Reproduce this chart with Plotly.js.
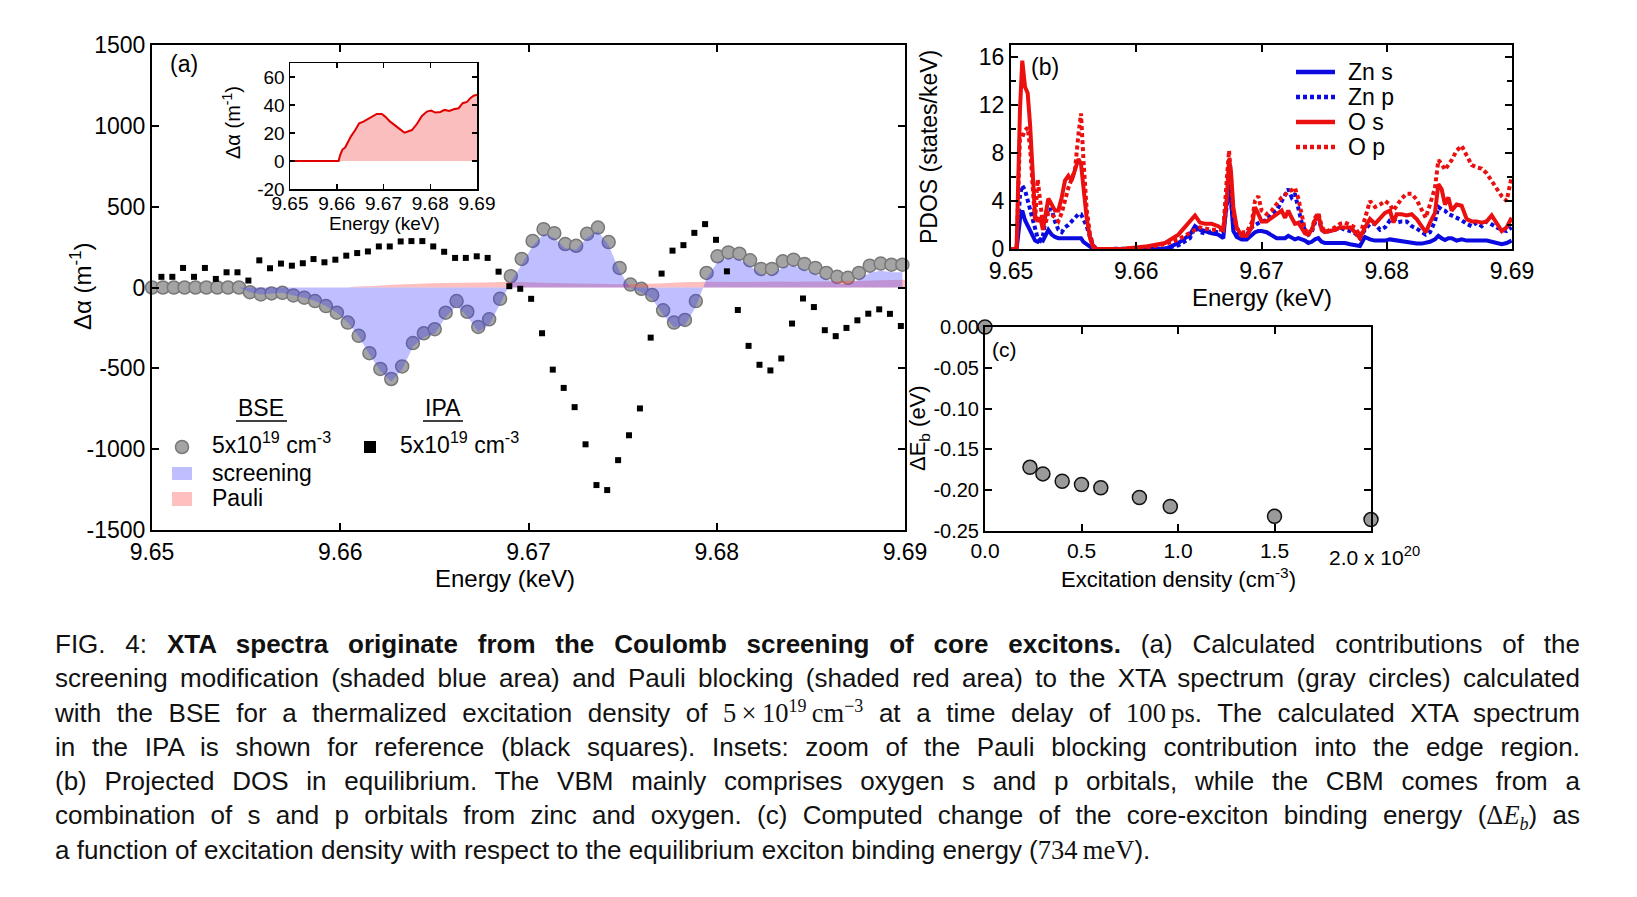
<!DOCTYPE html>
<html><head><meta charset="utf-8">
<script src="https://cdn.plot.ly/plotly-3.0.1.min.js"></script>
<style>
html,body{margin:0;padding:0;background:#fff;}
#chart{position:absolute;left:0;top:0;width:1637px;height:897px;}
#caption{position:absolute;left:55px;top:627px;width:1525px;font-family:'Liberation Sans',Arial,sans-serif;font-size:26px;color:#111;}
#caption div{height:34.3px;line-height:34.3px;text-align:justify;text-align-last:justify;white-space:nowrap;}
#caption div.last{text-align-last:left;}
#caption sup,#caption sub{line-height:0;font-size:0.68em;}
#caption .m{font-family:'Liberation Serif','DejaVu Serif',serif;font-size:1.02em;}
</style>
</head><body>
<div id="chart"></div>
<div id="caption">
<div>FIG. 4: <b>XTA spectra originate from the Coulomb screening of core excitons.</b> (a) Calculated contributions of the</div>
<div>screening modification (shaded blue area) and Pauli blocking (shaded red area) to the XTA spectrum (gray circles) calculated</div>
<div>with the BSE for a thermalized excitation density of <span class="m">5&#8201;×&#8201;10<sup>19</sup>&#8201;cm<sup>−3</sup></span> at a time delay of <span class="m">100&#8201;ps</span>. The calculated XTA spectrum</div>
<div>in the IPA is shown for reference (black squares). Insets: zoom of the Pauli blocking contribution into the edge region.</div>
<div>(b) Projected DOS in equilibrium. The VBM mainly comprises oxygen s and p orbitals, while the CBM comes from a</div>
<div>combination of s and p orbitals from zinc and oxygen. (c) Computed change of the core-exciton binding energy (<span class="m">Δ<i>E<sub>b</sub></i></span>) as</div>
<div class="last">a function of excitation density with respect to the equilibrium exciton binding energy (<span class="m">734&#8201;meV</span>).</div>
</div>
<script>
// ---------- Panel (a): BSE (gray circles) and screening contribution ----------
const bseE = [9.65000,9.65058,9.65116,9.65173,9.65231,9.65289,9.65347,9.65404,9.65462,9.65520,
9.65578,9.65635,9.65693,9.65751,9.65809,9.65866,9.65924,9.65982,9.66040,9.66098,
9.66155,9.66213,9.66271,9.66329,9.66386,9.66444,9.66502,9.66560,9.66618,9.66675,
9.66733,9.66791,9.66849,9.66906,9.66964,9.67022,9.67080,9.67137,9.67195,9.67253,
9.67311,9.67369,9.67426,9.67484,9.67542,9.67600,9.67657,9.67715,9.67773,9.67831,
9.67889,9.67946,9.68004,9.68062,9.68120,9.68177,9.68235,9.68293,9.68351,9.68408,
9.68466,9.68524,9.68582,9.68640,9.68697,9.68755,9.68813,9.68871,9.68928,9.68986];
const bseV = [0,0,0,0,0,0,0,0,0,-29,
-43,-37,-33,-49,-63,-84,-115,-156,-217,-299,
-406,-504,-566,-488,-344,-283,-258,-156,-84,-150,
-244,-197,-70,70,177,288,361,336,269,258,
332,371,281,121,18,-8,-47,-141,-217,-201,
-84,90,193,217,209,168,115,115,162,172,
146,121,90,66,60,90,135,148,141,141];
const screenV = [0,0,0,0,0,0,0,0,0,-29,
-43,-37,-33,-49,-63,-84,-115,-156,-217,-302,
-415,-516,-581,-507,-366,-308,-285,-184,-113,-180,
-275,-230,-104,36,143,256,331,308,243,233,
309,349,261,101,-3,-30,-71,-168,-247,-234,
-119,55,157,182,174,133,80,79,126,136,
110,84,53,27,19,48,92,103,94,94];
// IPA (black squares)
const ipaE = [9.65050,9.65108,9.65165,9.65223,9.65281,9.65339,9.65396,9.65454,9.65512,9.65570,
9.65627,9.65685,9.65743,9.65801,9.65858,9.65916,9.65974,9.66032,9.66090,9.66147,
9.66205,9.66263,9.66321,9.66378,9.66436,9.66494,9.66552,9.66610,9.66667,9.66725,
9.66783,9.66841,9.66898,9.66956,9.67014,9.67072,9.67129,9.67187,9.67245,9.67303,
9.67361,9.67418,9.67476,9.67534,9.67592,9.67649,9.67707,9.67765,9.67823,9.67881,
9.67938,9.67996,9.68054,9.68112,9.68169,9.68227,9.68285,9.68343,9.68400,9.68458,
9.68516,9.68574,9.68632,9.68689,9.68747,9.68805,9.68863,9.68920,9.68978];
const ipaV = [66,66,121,66,121,53,94,94,43,168,
119,148,135,150,176,156,172,197,213,223,
254,254,285,287,287,254,221,183,183,193,
183,98,8,-8,-70,-283,-508,-621,-740,-970,
-1222,-1253,-1068,-914,-748,-310,86,228,262,338,
392,295,100,-139,-361,-478,-513,-439,-223,-68,
-121,-264,-301,-250,-203,-162,-135,-163,-238];
// Pauli blocking contribution (main panel + inset)
const pauliE = [9.6500,9.6604,9.66071,9.66121,9.66179,9.66236,9.66307,9.66393,9.66479,9.66571,
9.66664,9.66764,9.66857,9.66964,9.67036,9.67143,9.67250,9.67357,9.67450,9.67536,
9.67607,9.67714,9.67821,9.67929,9.68021,9.68107,9.68214,9.68307,9.68407,9.68500,
9.68607,9.68693,9.68786,9.68857,9.68929,9.69000];
const pauliV = [0,0,4.1,8.2,9.6,13.7,17.8,22,26.9,28.1,
29.8,31.7,33.6,33.6,31.7,28.1,25,22.6,20.2,21.1,
22.1,26.4,32.2,35.3,36,34.6,35,36.5,35.8,37,
37.7,41.3,42.2,44.9,46.6,47.3];

// ---------- Panel (b): projected DOS ----------
const pdosE = [9.65000,9.65045,9.65072,9.65090,9.65112,9.65133,9.65152,9.65170,9.65192,9.65213,
9.65234,9.65255,9.65277,9.65298,9.65325,9.65351,9.65378,9.65405,9.65431,9.65458,
9.65484,9.65511,9.65538,9.65559,9.65578,9.65604,9.65631,9.65657,9.65684,9.65884,
9.66070,9.66230,9.66336,9.66429,9.66469,9.66509,9.66549,9.66602,9.66655,9.66695,
9.66722,9.66741,9.66756,9.66775,9.66802,9.66842,9.66882,9.66922,9.66948,9.66975,
9.67001,9.67041,9.67081,9.67121,9.67161,9.67188,9.67214,9.67241,9.67267,9.67294,
9.67321,9.67347,9.67374,9.67401,9.67427,9.67454,9.67480,9.67507,9.67547,9.67587,
9.67627,9.67667,9.67707,9.67747,9.67786,9.67826,9.67866,9.67906,9.67946,9.67986,
9.68026,9.68053,9.68079,9.68119,9.68159,9.68199,9.68239,9.68279,9.68311,9.68345,
9.68385,9.68412,9.68438,9.68465,9.68492,9.68518,9.68558,9.68598,9.68638,9.68678,
9.68718,9.68758,9.68798,9.68838,9.68878,9.68918,9.68957,9.68997];
const znS = [0,0,2.5,3.2,2.4,1.9,1.5,1.2,0.7,0.6,
0.8,0.7,1.2,1.6,1.2,1.0,0.9,0.9,0.9,0.9,
0.9,0.9,0.9,0.9,0.6,0.4,0.1,0,0,0,
0,0,0.5,1.2,1.9,1.6,1.5,1.3,1.2,0.9,
4.0,5.1,4.3,1.5,1.0,0.8,0.8,1.2,1.4,1.5,
1.5,1.4,1.1,0.9,0.9,0.9,1.1,0.9,0.8,0.9,
0.8,0.7,0.5,0.6,0.8,0.9,0.6,0.5,0.5,0.5,
0.5,0.5,0.4,0.35,0.25,1.0,0.8,0.7,0.7,0.7,
0.8,0.75,0.7,0.7,0.6,0.5,0.45,0.45,0.5,0.6,
0.8,1.1,0.9,0.75,0.9,0.9,0.7,0.8,0.7,0.7,
0.75,0.7,0.7,0.6,0.5,0.4,0.5,0.7];
const znP = [0,0,4.5,5.3,4.9,4.0,3.3,2.6,1.7,0.9,
0.7,1.1,2.6,3.3,3.3,2.3,1.6,1.4,1.8,2.0,
2.3,2.6,2.9,2.9,2.5,1.9,1.0,0.25,0,0,
0,0.05,0.3,0.9,1.8,1.4,1.3,1.5,1.4,1.6,
3.5,5.4,4.0,2.0,1.3,0.9,1.2,1.8,2.0,2.2,
2.3,2.4,2.9,3.2,4.0,4.6,5.0,4.3,4.6,3.4,
2.2,1.6,1.2,1.4,2.2,2.6,1.6,1.4,1.5,1.6,
1.8,1.6,1.5,1.3,0.9,1.6,2.1,2.1,1.6,1.8,
2.4,2.5,2.2,2.3,2.3,1.9,1.7,1.4,1.2,1.4,
2.3,3.5,3.3,3.2,2.9,2.8,2.6,2.4,2.1,1.9,
2.2,1.9,2.3,2.0,1.8,1.6,1.5,1.8];
const oS = [0,0.1,11.7,15.7,13.5,13.0,10.4,6.3,2.8,2.3,
2.6,1.6,2.9,4.2,3.7,3.2,3.2,4.3,5.7,6.1,
5.7,6.5,7.5,7.1,5.1,2.6,0.9,0.1,0,0,
0.2,0.5,1.2,2.3,2.8,2.2,2.1,2.1,1.9,1.6,
4.0,7.5,6.5,3.5,1.8,1.1,1.1,1.8,3.5,2.9,
2.3,2.3,2.6,2.9,3.2,2.6,3.2,2.6,2.1,2.2,
1.8,1.3,1.2,1.6,2.4,2.9,1.6,1.4,1.5,1.6,
1.8,1.8,1.8,1.4,0.9,1.8,2.5,2.1,2.6,3.0,
3.2,2.2,2.9,2.9,2.8,2.9,2.5,1.8,1.4,2.2,
3.0,5.4,5.0,3.7,4.3,3.2,3.7,3.6,2.5,2.3,
2.3,2.2,2.3,2.8,2.1,1.5,1.8,2.6];
const oP = [0,0,9.6,9.3,9.9,10.1,8.5,5.2,2.3,5.8,
4.2,2.0,2.2,3.0,2.9,2.6,2.3,3.0,4.2,5.1,
5.8,6.6,9.5,11.3,7.5,3.3,1.2,0.3,0,0,
0.1,0.4,0.8,1.4,1.6,1.8,1.7,1.6,1.6,1.6,
5.7,8.2,6.0,3.0,1.7,1.4,1.4,2.2,4.0,4.4,
3.2,2.9,3.2,3.8,4.3,4.5,4.8,4.9,5.1,4.2,
2.8,1.6,1.4,1.6,2.6,3.0,1.9,1.4,1.6,1.8,
2.1,2.2,2.0,1.8,1.1,2.6,4.0,3.5,3.7,4.0,
3.7,3.2,3.6,4.2,4.6,4.6,4.1,3.3,2.6,3.7,
5.1,7.4,7.1,6.6,7.0,7.4,8.2,8.6,7.8,7.0,
6.8,6.7,6.3,5.7,5.0,4.4,4.0,6.0];
const pdosNames = ['Zn s','Zn p','O s','O p'];

// ---------- Panel (c): binding-energy change ----------
const density = [0,0.233,0.30,0.40,0.50,0.60,0.80,0.96,1.50,2.00];
const dEb = [0,-0.172,-0.180,-0.189,-0.193,-0.197,-0.209,-0.220,-0.232,-0.236];

// ---------- tick labels ----------
const aYvals = [-1500,-1000,-500,0,500,1000,1500];
const aYtext = ['-1500','-1000','-500','0','500','1000','1500'];
const eVals = [9.65,9.66,9.67,9.68,9.69];
const eText = ['9.65','9.66','9.67','9.68','9.69'];
const insYvals = [-20,0,20,40,60];
const insYtext = ['-20','0','20','40','60'];
const cYvals = [-0.25,-0.20,-0.15,-0.10,-0.05,0.00];
const cYtext = ['-0.25','-0.20','-0.15','-0.10','-0.05','0.00'];
const cXvals = [0,0.5,1.0,1.5];
const cXtext = ['0.0','0.5','1.0','1.5'];

// ---------- layout helpers ----------
const W = 1637, H = 897;
const px = x => x / W, py = y => 1 - y / H;
const FONT = 'Liberation Sans, Arial, Helvetica, sans-serif';
const BLUE = 'rgb(10,10,225)', RED = 'rgb(235,15,15)';

function ax(extra) {
  return Object.assign({
    showline: true, linecolor: '#000', linewidth: 2, mirror: 'allticks',
    ticks: 'inside', ticklen: 7, tickwidth: 2, tickcolor: '#000',
    showgrid: false, zeroline: false, fixedrange: true,
    tickfont: {family: FONT, size: 23, color: '#000'}
  }, extra);
}

const traces = [
  {x: bseE, y: bseV, xaxis: 'x', yaxis: 'y', type: 'scatter', mode: 'markers', cliponaxis: false,
   name: 'BSE 5x10^19 cm^-3',
   marker: {size: 13, color: '#a4a4a4', line: {color: '#787878', width: 1.5}}},
  {x: pauliE, y: pauliV, xaxis: 'x', yaxis: 'y', type: 'scatter', mode: 'none', fill: 'tozeroy',
   fillcolor: 'rgba(255,60,60,0.33)', name: 'Pauli'},
  {x: bseE, y: screenV, xaxis: 'x', yaxis: 'y', type: 'scatter', mode: 'none', fill: 'tozeroy',
   fillcolor: 'rgba(60,60,255,0.33)', name: 'screening'},
  {x: ipaE, y: ipaV, xaxis: 'x', yaxis: 'y', type: 'scatter', mode: 'markers', name: 'IPA 5x10^19 cm^-3',
   marker: {symbol: 'square', size: 6, color: '#000'}},
  {x: pauliE, y: pauliV, xaxis: 'x2', yaxis: 'y2', type: 'scatter', mode: 'lines', fill: 'tozeroy',
   fillcolor: 'rgb(250,190,190)', line: {color: 'rgb(225,0,0)', width: 2}, name: 'Pauli (inset)'},
  {x: pdosE, y: znS, xaxis: 'x3', yaxis: 'y3', type: 'scatter', mode: 'lines', name: pdosNames[0],
   line: {color: BLUE, width: 4}},
  {x: pdosE, y: znP, xaxis: 'x3', yaxis: 'y3', type: 'scatter', mode: 'lines', name: pdosNames[1],
   line: {color: BLUE, width: 4, dash: '4px,3px'}},
  {x: pdosE, y: oP, xaxis: 'x3', yaxis: 'y3', type: 'scatter', mode: 'lines', name: pdosNames[3],
   line: {color: RED, width: 4, dash: '4px,3px'}},
  {x: pdosE, y: oS, xaxis: 'x3', yaxis: 'y3', type: 'scatter', mode: 'lines', name: pdosNames[2],
   line: {color: RED, width: 4}},
  {x: density, y: dEb, xaxis: 'x4', yaxis: 'y4', type: 'scatter', mode: 'markers', cliponaxis: false,
   name: 'ΔEb', marker: {size: 14, color: '#9a9a9a', line: {color: '#111', width: 1.5}}}
];

const ann = [];
function A(text, x, y, o) {
  o = o || {};
  const f = Object.assign({family: FONT, size: 22, color: '#000'}, o.font || {});
  const a = Object.assign({text: text, x: px(x), y: py(y), xref: 'paper', yref: 'paper',
    showarrow: false, xanchor: 'center', yanchor: 'middle'}, o);
  a.font = f;
  ann.push(a);
}
// panel (a)
A('(a)', 184, 64, {font: {size: 23}});
A('Energy (keV)', 505, 578, {font: {size: 24}});
A('Δα (m<sup>-1</sup>)', 81, 287, {textangle: -90, font: {size: 24}});
A('Energy (keV)', 384, 224, {font: {size: 19}});
A('Δα (m<sup>-1</sup>)', 231, 122, {textangle: -90, font: {size: 20}});
A('BSE', 261, 408, {font: {size: 23}});
A('IPA', 443, 408, {font: {size: 23}});
A('5x10<sup>19</sup> cm<sup>-3</sup>', 210, 443, {xanchor: 'left', font: {size: 23}});
A('5x10<sup>19</sup> cm<sup>-3</sup>', 398, 443, {xanchor: 'left', font: {size: 23}});
A('screening', 210, 473, {xanchor: 'left', font: {size: 23}});
A('Pauli', 210, 498, {xanchor: 'left', font: {size: 23}});
// panel (b)
A('(b)', 1045, 67, {font: {size: 23}});
A('Energy (keV)', 1262, 297, {font: {size: 24}});
A('PDOS (states/keV)', 929, 147, {textangle: -90, font: {size: 23}});
const legY = [72, 97, 122, 147];
pdosNames.forEach((n, i) => A(n, 1346, legY[i], {xanchor: 'left', font: {size: 23}}));
// panel (c)
A('(c)', 1004, 349, {font: {size: 21}});
A('ΔE<sub>b</sub> (eV)', 919, 428, {textangle: -90, font: {size: 22}});
A('Excitation density (cm<sup>-3</sup>)', 1178, 578, {font: {size: 22}});
A('2.0 x 10<sup>20</sup>', 1327, 556, {xanchor: 'left', font: {size: 21}});

const shapes = [
  // legend (a)
  {type: 'circle', xref: 'paper', yref: 'paper', x0: px(175.5), x1: px(188.5), y0: py(453.5), y1: py(440.5),
   fillcolor: '#a4a4a4', line: {color: '#787878', width: 1.5}},
  {type: 'rect', xref: 'paper', yref: 'paper', x0: px(364), x1: px(376), y0: py(453), y1: py(441),
   fillcolor: '#000', line: {width: 0}},
  {type: 'rect', xref: 'paper', yref: 'paper', x0: px(172), x1: px(192), y0: py(480), y1: py(467),
   fillcolor: 'rgba(60,60,255,0.33)', line: {width: 0}},
  {type: 'rect', xref: 'paper', yref: 'paper', x0: px(172), x1: px(192), y0: py(506), y1: py(492),
   fillcolor: 'rgba(255,60,60,0.33)', line: {width: 0}},
  {type: 'line', xref: 'paper', yref: 'paper', x0: px(236), x1: px(287), y0: py(421), y1: py(421),
   line: {color: '#000', width: 1.5}},
  {type: 'line', xref: 'paper', yref: 'paper', x0: px(423), x1: px(463), y0: py(421), y1: py(421),
   line: {color: '#000', width: 1.5}}
];
// legend (b) line samples
const legStyles = [{c: BLUE, d: 'solid'}, {c: BLUE, d: '4px,3px'}, {c: RED, d: 'solid'}, {c: RED, d: '4px,3px'}];
legStyles.forEach((s, i) => shapes.push({type: 'line', xref: 'paper', yref: 'paper',
  x0: px(1296), x1: px(1335), y0: py(legY[i]), y1: py(legY[i]), line: {color: s.c, width: 4.5, dash: s.d}}));

const layout = {
  width: W, height: H, margin: {l: 0, r: 0, t: 0, b: 0}, showlegend: false,
  paper_bgcolor: '#fff', plot_bgcolor: 'rgba(0,0,0,0)',
  font: {family: FONT, color: '#000'},
  xaxis: ax({domain: [px(152), px(905)], range: [9.65, 9.69], anchor: 'y',
    tickmode: 'array', tickvals: eVals, ticktext: eText}),
  yaxis: ax({domain: [py(530), py(45)], range: [-1500, 1500], anchor: 'x',
    tickmode: 'array', tickvals: aYvals, ticktext: aYtext}),
  xaxis2: ax({domain: [px(290), px(477)], range: [9.65, 9.69], anchor: 'y2', linewidth: 1.5, tickwidth: 1.5, ticklen: 5,
    ticklabelstandoff: -3,
    tickmode: 'array', tickvals: eVals, ticktext: eText, tickfont: {family: FONT, size: 19, color: '#000'}}),
  yaxis2: ax({domain: [py(189), py(63)], range: [-20, 70], anchor: 'x2', linewidth: 1.5, tickwidth: 1.5, ticklen: 5,
    tickmode: 'array', tickvals: insYvals, ticktext: insYtext, tickfont: {family: FONT, size: 19, color: '#000'}}),
  xaxis3: ax({domain: [px(1011), px(1512)], range: [9.65, 9.69], anchor: 'y3',
    tickmode: 'array', tickvals: eVals, ticktext: eText}),
  yaxis3: ax({domain: [py(249), py(45)], range: [0, 17], anchor: 'x3',
    tickmode: 'linear', tick0: 0, dtick: 4,
    minor: {dtick: 2, tick0: 0, ticks: 'inside', ticklen: 5, tickwidth: 1.5, tickcolor: '#000'}}),
  xaxis4: ax({domain: [px(985), px(1371)], range: [0, 2.0], anchor: 'y4',
    tickmode: 'array', tickvals: cXvals, ticktext: cXtext, tickfont: {family: FONT, size: 21, color: '#000'}}),
  yaxis4: ax({domain: [py(531), py(327)], range: [-0.25, 0], anchor: 'x4',
    tickmode: 'array', tickvals: cYvals, ticktext: cYtext, tickfont: {family: FONT, size: 20, color: '#000'}}),
  annotations: ann,
  shapes: shapes
};

Plotly.newPlot('chart', traces, layout, {staticPlot: true, displayModeBar: false});
</script>
</body></html>
